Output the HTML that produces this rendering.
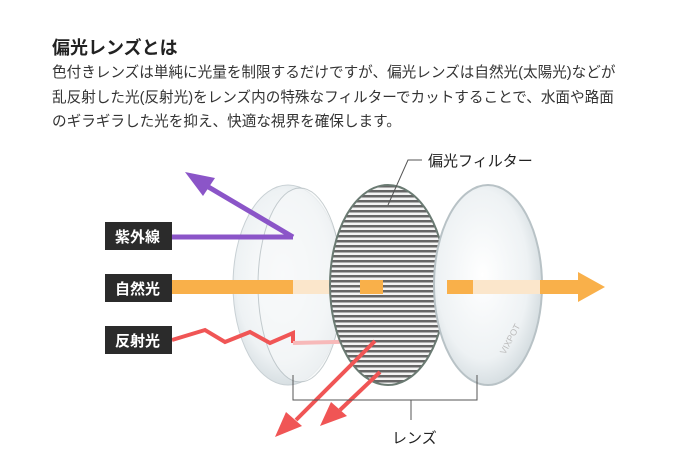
<!DOCTYPE html><html><head><meta charset="utf-8"><style>
body{margin:0;background:#fff;width:695px;height:460px;overflow:hidden;font-family:"Liberation Sans","Noto Sans CJK JP",sans-serif;color:#222}
h1{position:absolute;left:52px;top:34px;margin:0;font-size:18px;font-weight:bold}
p{position:absolute;left:52px;top:61px;margin:0;font-size:14.6px;line-height:24.5px;width:680px;color:#333;white-space:nowrap}
svg{position:absolute;left:0;top:0}
</style></head><body>
<h1>偏光レンズとは</h1>
<p>色付きレンズは単純に光量を制限するだけですが、偏光レンズは自然光(太陽光)などが<br>乱反射した光(反射光)をレンズ内の特殊なフィルターでカットすることで、水面や路面<br>のギラギラした光を抑え、快適な視界を確保します。</p>
<svg width="695" height="460" font-family="Liberation Sans,Noto Sans CJK JP,sans-serif">
<defs>
<radialGradient id="g" cx="0.45" cy="0.45" r="0.6"><stop offset="0" stop-color="#fff"/><stop offset="0.7" stop-color="#eef2f4"/><stop offset="1" stop-color="#cfd8dc"/></radialGradient>
<pattern id="st" width="6" height="5" patternUnits="userSpaceOnUse"><rect width="6" height="5" fill="#f4f4f4"/><rect width="6" height="2.5" fill="#666"/></pattern>
</defs>
<ellipse cx="288" cy="285" rx="55" ry="100" fill="url(#g)" stroke="#c8d0d4"/>
<ellipse cx="300" cy="285" rx="42" ry="97" fill="#f6f8f9" opacity="0.7" stroke="#aeb8bc"/>
<rect x="172" y="280" width="121" height="14" fill="#f9b04a"/>
<line x1="172" y1="237" x2="293" y2="237" stroke="#8b55c8" stroke-width="5"/>
<line x1="293" y1="237" x2="200" y2="182" stroke="#8b55c8" stroke-width="5"/>
<polygon points="185,172 215,178 203,196" fill="#8b55c8"/>
<polyline points="172,340 205,330 225,342 250,332 270,343 293,333 293,343" fill="none" stroke="#f05555" stroke-width="4"/>
<polyline points="293,343 375,341 380,372" fill="none" stroke="#f7b9b9" stroke-width="4"/>
<rect x="293" y="280" width="70" height="14" fill="#fbe6cb"/>
<ellipse cx="388" cy="285" rx="58" ry="100" fill="url(#st)" stroke="#6a7a72" stroke-width="2"/>
<rect x="360" y="280" width="23" height="14" fill="#f9b04a"/>
<line x1="375" y1="341" x2="296" y2="420" stroke="#f05555" stroke-width="4"/>
<polygon points="275,437 286,412 302,426" fill="#f05555"/>
<line x1="380" y1="372" x2="340" y2="410" stroke="#f05555" stroke-width="4"/>
<polygon points="320,426 331,402 347,416" fill="#f05555"/>
<ellipse cx="488" cy="285" rx="54" ry="100" fill="url(#g)" stroke="#b8c2c6" stroke-width="2"/>
<rect x="447" y="280" width="26" height="14" fill="#f9b04a"/>
<rect x="473" y="280" width="67" height="14" fill="#fbe6cb"/>
<rect x="540" y="280" width="40" height="14" fill="#f9b04a"/>
<polygon points="578,272 605,287 578,302" fill="#f9b04a"/>
<text x="505" y="355" font-size="9" fill="#bbb" transform="rotate(-62 505 355)">VIXPOT</text>
<polyline points="293,375 293,400 477,400 477,375" fill="none" stroke="#555"/>
<line x1="411" y1="400" x2="411" y2="420" stroke="#555"/>
<text x="392" y="443" font-size="15" fill="#222">レンズ</text>
<polyline points="388,205 408,160 422,160" fill="none" stroke="#555"/>
<text x="428" y="166" font-size="15" fill="#222">偏光フィルター</text>
<g font-size="15" fill="#fff" font-weight="bold">
<rect x="105" y="222" width="67" height="28" fill="#2b2b2b"/><text x="115" y="242">紫外線</text>
<rect x="105" y="274" width="67" height="28" fill="#2b2b2b"/><text x="115" y="294">自然光</text>
<rect x="105" y="326" width="67" height="28" fill="#2b2b2b"/><text x="115" y="346">反射光</text>
</g>
</svg>
</body></html>
